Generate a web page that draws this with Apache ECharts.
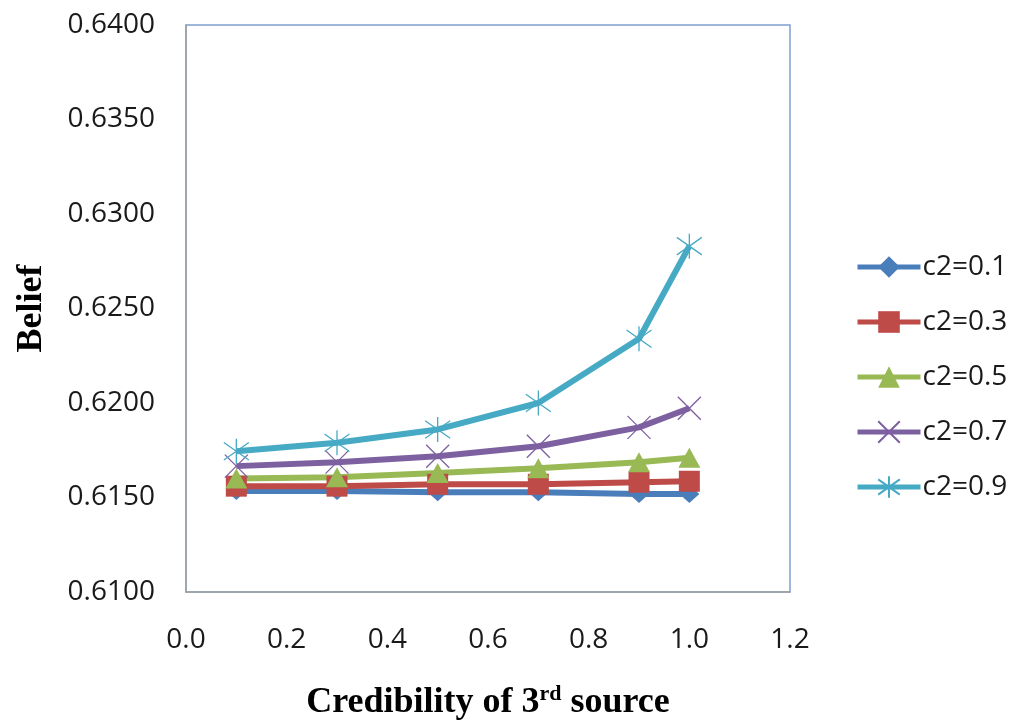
<!DOCTYPE html>
<html>
<head>
<meta charset="utf-8">
<script src="https://cdn.jsdelivr.net/npm/echarts@6/dist/echarts.min.js"></script>
<style>
  html, body { margin: 0; padding: 0; background: #fff; }
  #chart { width: 1010px; height: 723px; }
</style>
</head>
<body>
<div id="chart"></div>
<script>
// credibility of the 3rd source (x values)
const credibility = [0.1, 0.3, 0.5, 0.7, 0.9, 1.0]
const seriesNames = ['c2=0.1', 'c2=0.3', 'c2=0.5', 'c2=0.7', 'c2=0.9']
const beliefC01 = [0.61534, 0.61534, 0.61528, 0.61528, 0.61518, 0.61518]
const beliefC03 = [0.61560, 0.61560, 0.61570, 0.61570, 0.61581, 0.61586]
const beliefC05 = [0.61600, 0.61607, 0.61630, 0.61655, 0.61687, 0.61710]
const beliefC07 = [0.61666, 0.61687, 0.61718, 0.61771, 0.61871, 0.61972]
const beliefC09 = [0.61745, 0.61790, 0.61860, 0.62000, 0.62340, 0.62830]
const seriesValues = [beliefC01, beliefC03, beliefC05, beliefC07, beliefC09]

const colors = ['#4a7ebb', '#be4b48', '#98b954', '#7d60a0', '#46aac5']
const markers = [
  { symbol: 'diamond', size: [20, 18], border: 0 },
  { symbol: 'rect', size: 21, border: 0 },
  { symbol: 'triangle', size: [22, 20], border: 0 },
  { symbol: 'path://M0,0L10,10M10,0L0,10', size: 23, border: 1.3 },
  { symbol: 'path://M5,0L5,10M0,1.5L10,8.5M10,1.5L0,8.5', size: 25, border: 1.3 }
]

const chart = echarts.init(document.getElementById('chart'))

const series = seriesNames.map((name, i) => ({
  name,
  type: 'line',
  data: credibility.map((x, j) => [x, seriesValues[i][j]]),
  symbol: markers[i].symbol,
  symbolSize: markers[i].size,
  symbolKeepAspect: true,
  showAllSymbol: true,
  lineStyle: { color: colors[i], width: 6 },
  itemStyle: {
    color: colors[i],
    borderColor: colors[i],
    borderWidth: markers[i].border,
    opacity: 1
  },
  emphasis: { disabled: true },
  animation: false
}))

chart.setOption({
  backgroundColor: '#fff',
  animation: false,
  grid: {
    left: 186, right: 220, top: 25, bottom: 131,
    outerBoundsMode: 'none',
    show: true,
    borderColor: '#7f9fcf',
    borderWidth: 1.5
  },
  legend: {
    orient: 'vertical',
    left: 855,
    top: 253,
    padding: 0,
    itemWidth: 63,
    itemHeight: 27,
    itemGap: 27,
    data: seriesNames,
    lineStyle: { width: 5 },
    textStyle: { fontFamily: 'Open Sans', fontSize: 28, color: '#1a1a1a', padding: [0, 0, 0, -3] }
  },
  xAxis: {
    type: 'value',
    min: 0,
    max: 1.2,
    interval: 0.2,
    name: '{a|Credibility of 3}{b|rd}{a| source}',
    nameLocation: 'middle',
    nameGap: 91,
    nameTextStyle: {
      rich: {
        a: { fontFamily: 'Liberation Serif', fontWeight: 'bold', fontSize: 36, color: '#000', lineHeight: 40 },
        b: { fontFamily: 'Liberation Serif', fontWeight: 'bold', fontSize: 22, color: '#000', verticalAlign: 'top', lineHeight: 40, padding: [0, 0, 14, 0] }
      }
    },
    axisLine: { show: true, lineStyle: { color: '#a0a0a0', width: 1.5 } },
    axisTick: { show: false },
    splitLine: { show: false },
    axisLabel: {
      margin: 34,
      fontFamily: 'Open Sans',
      fontSize: 28,
      color: '#1a1a1a',
      formatter: (v) => v.toFixed(1)
    }
  },
  yAxis: {
    type: 'value',
    min: 0.61,
    max: 0.64,
    interval: 0.005,
    name: 'Belief',
    nameLocation: 'middle',
    nameGap: 136,
    nameTextStyle: { fontFamily: 'Liberation Serif', fontWeight: 'bold', fontSize: 36, color: '#000' },
    axisLine: { show: true, lineStyle: { color: '#a0a0a0', width: 1.5 } },
    axisTick: { show: false },
    splitLine: { show: false },
    axisLabel: {
      margin: 31,
      fontFamily: 'Open Sans',
      fontSize: 28,
      color: '#1a1a1a',
      formatter: (v) => v.toFixed(4)
    }
  },
  series
})
</script>
</body>
</html>
